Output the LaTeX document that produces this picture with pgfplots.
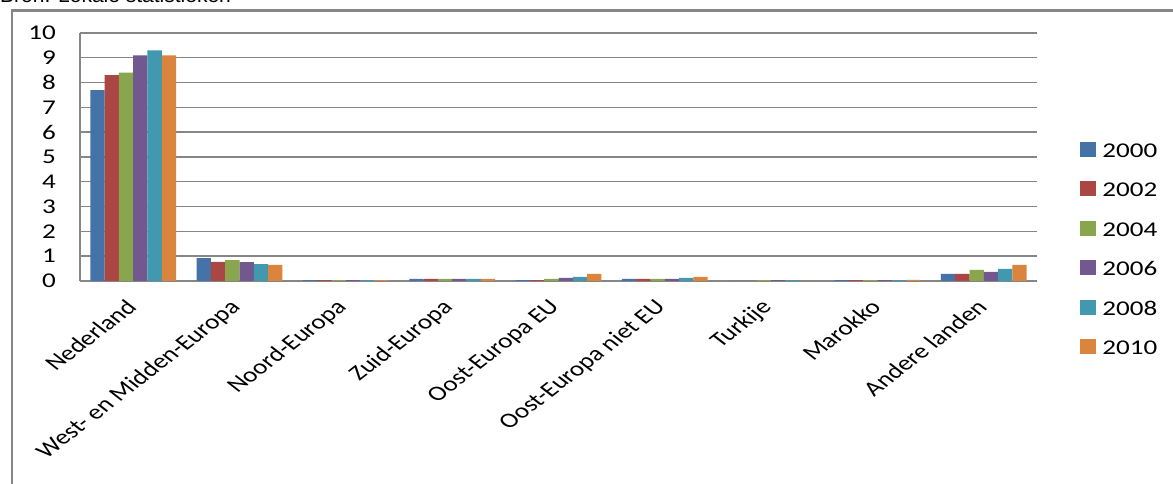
\documentclass[border=0pt]{standalone}
\usepackage{fontspec}
\setmainfont{Carlito}[FakeStretch=1.29]
\newfontfamily\plainfont{Carlito}
\newfontfamily\bronfont{Liberation Sans}
\usepackage{pgfplots}
\usepackage{pgfplotstable}
\usepackage{graphicx}
\pgfplotsset{compat=1.18}
\definecolor{c1}{HTML}{4572A7}
\definecolor{c2}{HTML}{AA4643}
\definecolor{c3}{HTML}{89A54E}
\definecolor{c4}{HTML}{71588F}
\definecolor{c5}{HTML}{4198AF}
\definecolor{c6}{HTML}{DB843D}
\definecolor{gridc}{HTML}{868686}
\newcommand\lab[1]{\scalebox{1.29}[1]{\rotatebox{45}{\plainfont\fontsize{21}{25}\selectfont #1}}}
\pgfplotstableread{
x y2000 y2002 y2004 y2006 y2008 y2010
0 7.7 8.3 8.4 9.1 9.3 9.1
1 0.92 0.77 0.84 0.76 0.68 0.65
2 0.04 0.04 0.04 0.04 0.04 0.04
3 0.09 0.09 0.09 0.09 0.09 0.09
4 0.04 0.04 0.09 0.13 0.17 0.29
5 0.09 0.09 0.09 0.09 0.13 0.17
6 0 0 0.04 0.04 0.04 0
7 0.04 0.04 0.04 0.04 0.04 0.05
8 0.29 0.29 0.45 0.37 0.49 0.65
}\datatable
\begin{document}
\begin{tikzpicture}[x=1pt,y=1pt]
\useasboundingbox (0,0) rectangle (1173,484);
\clip (0,0) rectangle (1173,484);
\fill[white] (0,0) rectangle (1173,484);
\node[anchor=base west, inner sep=0pt, font=\bronfont\fontsize{21}{25}\selectfont] at (0,481) {Bron: Lokale statistieken};
\draw[gridc, line width=2.2pt] (12,0) -- (12,473.5) -- (1180,473.5);
\begin{axis}[
  at={(80pt,203pt)}, anchor=south west,
  scale only axis, width=957pt, height=248pt,
  xmin=-0.5, xmax=8.5, ymin=0, ymax=10,
  ybar=0pt, bar width=14.3pt,
  axis lines*=left,
  axis line style={gridc, line width=1.4pt},
  ymajorgrids, grid style={gridc, line width=1.4pt},
  ytick={0,1,...,10},
  xtick={0,...,8},
  major tick length=0pt,
  xticklabels={\lab{Nederland},\lab{West- en Midden-Europa},\lab{Noord-Europa},\lab{Zuid-Europa},\lab{Oost-Europa EU},\lab{Oost-Europa niet EU},\lab{Turkije},\lab{Marokko},\lab{Andere landen}},
  xticklabel style={anchor=north east, inner sep=0pt, xshift=5pt, yshift=-17pt},
  yticklabel style={font=\fontsize{21}{25}\selectfont, inner sep=0pt, xshift=-24pt},
  /pgf/number format/assume math mode=true,
  legend style={at={(1.042,0.57)}, anchor=north west, draw=none, fill=none,
    font=\fontsize{21}{25}\selectfont, row sep=24pt,
    nodes={inner sep=0pt, text height=15pt, text depth=0pt, anchor=west}},
  legend cell align=left,
  legend image code/.code={\fill[#1] (0pt,-7pt) rectangle (16pt,8pt); \path (22pt,0pt);},
]
\addplot[fill=c1, draw=none] table[x=x,y=y2000] {\datatable};
\addplot[fill=c2, draw=none] table[x=x,y=y2002] {\datatable};
\addplot[fill=c3, draw=none] table[x=x,y=y2004] {\datatable};
\addplot[fill=c4, draw=none] table[x=x,y=y2006] {\datatable};
\addplot[fill=c5, draw=none] table[x=x,y=y2008] {\datatable};
\addplot[fill=c6, draw=none] table[x=x,y=y2010] {\datatable};
\legend{2000,2002,2004,2006,2008,2010}
\end{axis}
\end{tikzpicture}
\end{document}
